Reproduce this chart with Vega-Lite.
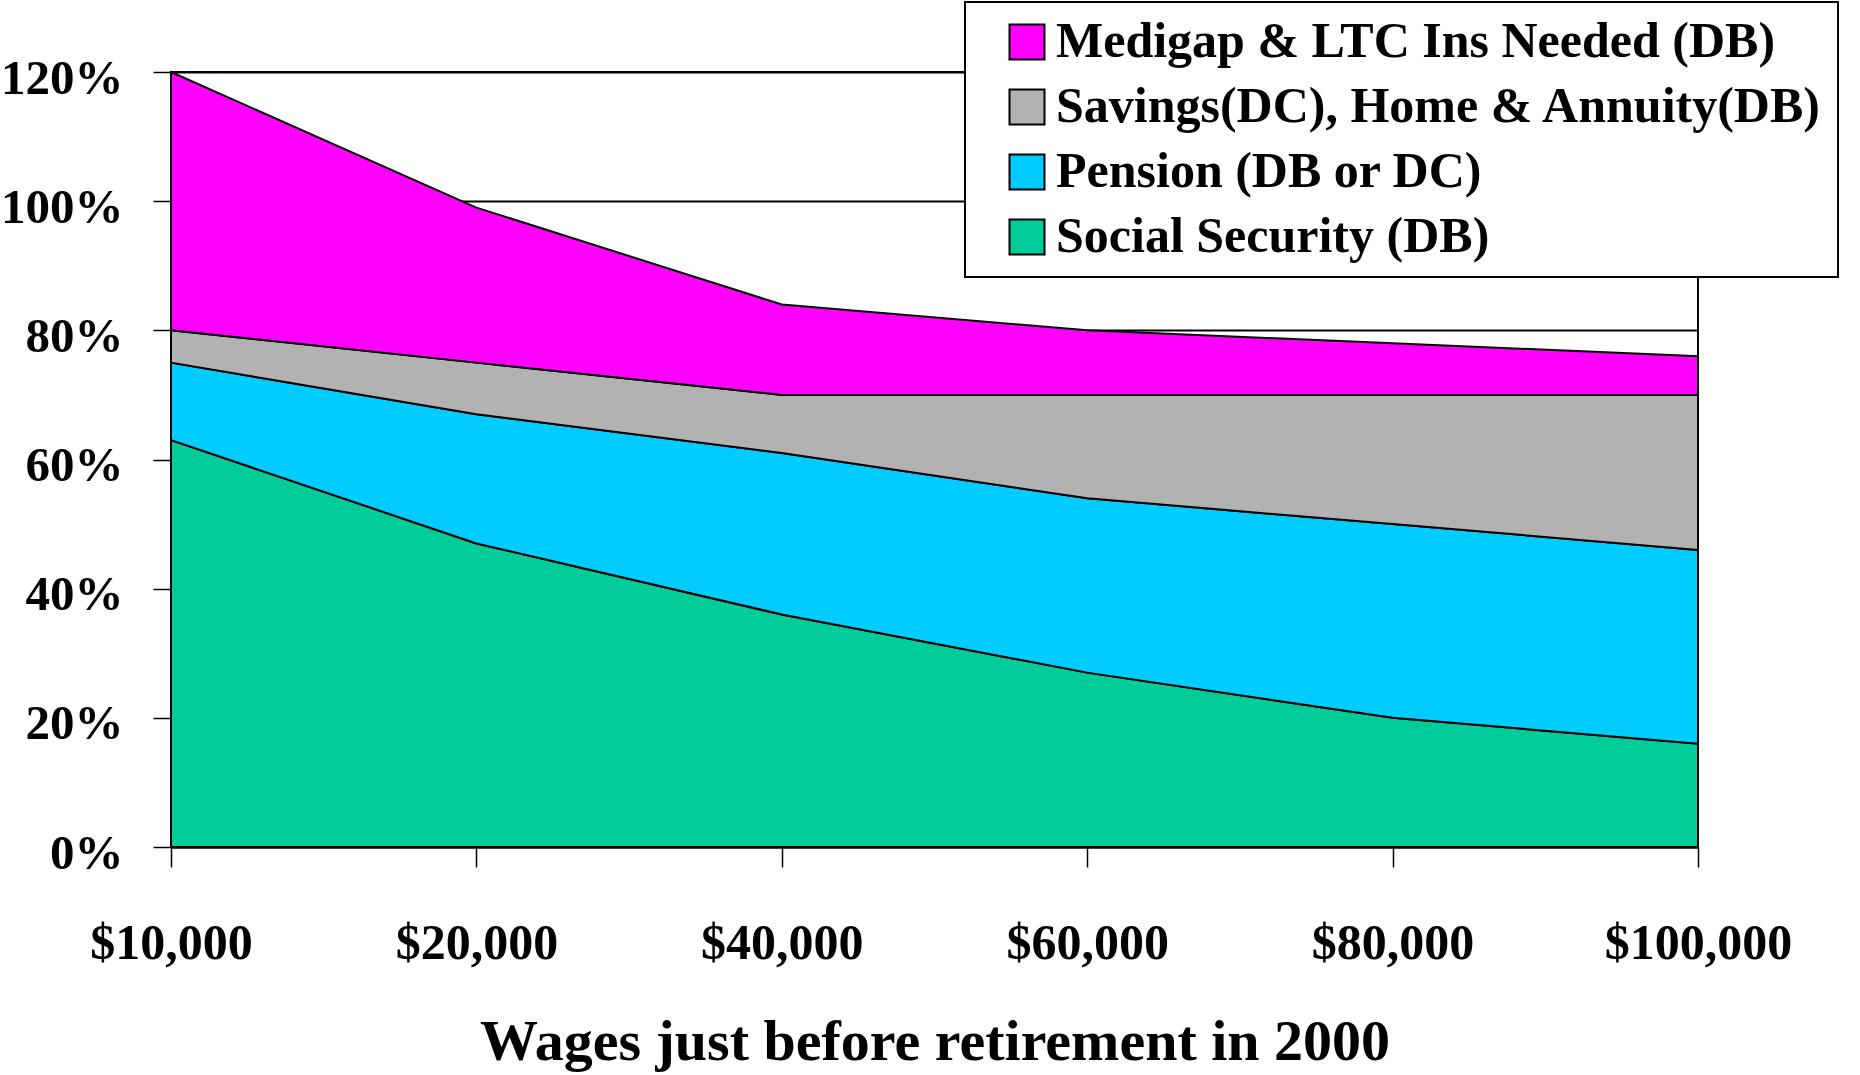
{
  "$schema": "https://vega.github.io/schema/vega-lite/v6.json",
  "width": 1527,
  "height": 775,
  "autosize": "none",
  "padding": {"left": 171, "top": 72, "right": 162, "bottom": 228},
  "background": "white",
  "config": {
    "font": "Liberation Serif",
    "view": {"stroke": "black", "strokeWidth": 2},
    "axis": {
      "labelFont": "Liberation Serif",
      "labelFontWeight": "bold",
      "labelColor": "black",
      "titleFont": "Liberation Serif",
      "titleFontWeight": "bold",
      "titleColor": "black",
      "domainColor": "black",
      "domainWidth": 2,
      "tickColor": "black",
      "tickWidth": 1.5
    },
    "legend": {
      "labelFont": "Liberation Serif",
      "labelFontWeight": "bold",
      "labelColor": "black",
      "strokeColor": "black",
      "strokeWidth": 2,
      "fillColor": "white",
      "cornerRadius": 0
    }
  },
  "data": {
    "values": [
      {"wage": "$10,000", "series": "Social Security (DB)", "rank": 1, "value": 63},
      {"wage": "$20,000", "series": "Social Security (DB)", "rank": 1, "value": 47},
      {"wage": "$40,000", "series": "Social Security (DB)", "rank": 1, "value": 36},
      {"wage": "$60,000", "series": "Social Security (DB)", "rank": 1, "value": 27},
      {"wage": "$80,000", "series": "Social Security (DB)", "rank": 1, "value": 20},
      {"wage": "$100,000", "series": "Social Security (DB)", "rank": 1, "value": 16},
      {"wage": "$10,000", "series": "Pension (DB or DC)", "rank": 2, "value": 12},
      {"wage": "$20,000", "series": "Pension (DB or DC)", "rank": 2, "value": 20},
      {"wage": "$40,000", "series": "Pension (DB or DC)", "rank": 2, "value": 25},
      {"wage": "$60,000", "series": "Pension (DB or DC)", "rank": 2, "value": 27},
      {"wage": "$80,000", "series": "Pension (DB or DC)", "rank": 2, "value": 30},
      {"wage": "$100,000", "series": "Pension (DB or DC)", "rank": 2, "value": 30},
      {"wage": "$10,000", "series": "Savings(DC), Home & Annuity(DB)", "rank": 3, "value": 5},
      {"wage": "$20,000", "series": "Savings(DC), Home & Annuity(DB)", "rank": 3, "value": 8},
      {"wage": "$40,000", "series": "Savings(DC), Home & Annuity(DB)", "rank": 3, "value": 9},
      {"wage": "$60,000", "series": "Savings(DC), Home & Annuity(DB)", "rank": 3, "value": 16},
      {"wage": "$80,000", "series": "Savings(DC), Home & Annuity(DB)", "rank": 3, "value": 20},
      {"wage": "$100,000", "series": "Savings(DC), Home & Annuity(DB)", "rank": 3, "value": 24},
      {"wage": "$10,000", "series": "Medigap & LTC Ins Needed (DB)", "rank": 4, "value": 40},
      {"wage": "$20,000", "series": "Medigap & LTC Ins Needed (DB)", "rank": 4, "value": 24},
      {"wage": "$40,000", "series": "Medigap & LTC Ins Needed (DB)", "rank": 4, "value": 14},
      {"wage": "$60,000", "series": "Medigap & LTC Ins Needed (DB)", "rank": 4, "value": 10},
      {"wage": "$80,000", "series": "Medigap & LTC Ins Needed (DB)", "rank": 4, "value": 8},
      {"wage": "$100,000", "series": "Medigap & LTC Ins Needed (DB)", "rank": 4, "value": 6}
    ]
  },
  "mark": {"type": "area", "stroke": "black", "strokeWidth": 2, "opacity": 1, "fillOpacity": 1},
  "encoding": {
    "x": {
      "field": "wage",
      "type": "ordinal",
      "sort": ["$10,000", "$20,000", "$40,000", "$60,000", "$80,000", "$100,000"],
      "scale": {"type": "point", "padding": 0},
      "axis": {
        "title": "Wages just before retirement in 2000",
        "titleFontSize": 58,
        "titleBaseline": "alphabetic",
        "titleY": 212,
        "labelFontSize": 50,
        "labelAngle": 0,
        "labelLimit": 500,
        "labelBaseline": "alphabetic",
        "labelPadding": 91,
        "tickSize": 20,
        "grid": false
      }
    },
    "y": {
      "field": "value",
      "type": "quantitative",
      "stack": "zero",
      "scale": {"domain": [0, 120], "nice": false},
      "axis": {
        "title": null,
        "values": [0, 20, 40, 60, 80, 100, 120],
        "labelExpr": "datum.value + '%'",
        "labelFontSize": 49,
        "labelBaseline": "alphabetic",
        "labelOffset": 21,
        "labelPadding": 30,
        "tickSize": 18,
        "grid": true,
        "gridColor": "black",
        "gridWidth": 2,
        "gridOpacity": 1
      }
    },
    "order": {"field": "rank", "type": "quantitative", "sort": "ascending"},
    "color": {
      "field": "series",
      "type": "nominal",
      "sort": ["Medigap & LTC Ins Needed (DB)", "Savings(DC), Home & Annuity(DB)", "Pension (DB or DC)", "Social Security (DB)"],
      "scale": {
        "domain": ["Medigap & LTC Ins Needed (DB)", "Savings(DC), Home & Annuity(DB)", "Pension (DB or DC)", "Social Security (DB)"],
        "range": ["#FF00FF", "#B2B2B2", "#00CCFF", "#00CC99"]
      },
      "legend": {
        "title": null,
        "orient": "none",
        "legendX": 794,
        "legendY": -70,
        "direction": "vertical",
        "labelFontSize": 50,
        "labelOffset": 4,
        "labelLimit": 1000,
        "symbolType": "square",
        "symbolSize": 1225,
        "symbolStrokeColor": "black",
        "symbolStrokeWidth": 2,
        "symbolOpacity": 1,
        "symbolOffset": 22,
        "rowPadding": 15,
        "padding": 15
      }
    }
  }
}
